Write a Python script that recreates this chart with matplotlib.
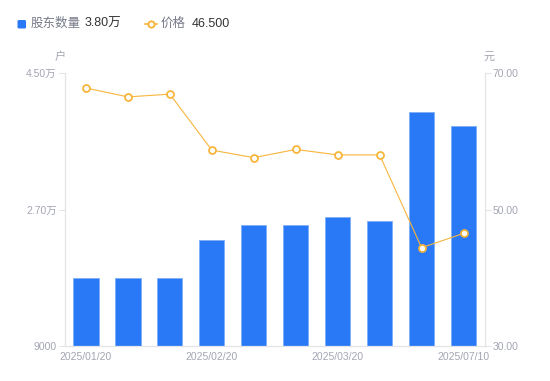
import matplotlib
matplotlib.use("Agg")
import matplotlib.pyplot as plt
from matplotlib.patches import FancyBboxPatch
from matplotlib.lines import Line2D

plt.rcParams['font.family'] = ['Liberation Sans', 'Noto Sans CJK SC', 'DejaVu Sans']

dates = ["2025/01/20", "2025/01/31", "2025/02/10", "2025/02/20", "2025/02/28",
         "2025/03/10", "2025/03/20", "2025/03/31", "2025/06/30", "2025/07/10"]
holders = [18000, 18000, 18000, 23000, 25000, 25000, 26000, 25500, 39900, 38000]
price = [67.8, 66.5, 66.9, 58.7, 57.6, 58.8, 58.0, 58.0, 44.4, 46.5]
xtick_idx = [0, 3, 6, 9]
left_ticks = [9000, 27000, 45000]
left_labels = ["9000", "2.70万", "4.50万"]
right_ticks = [30, 50, 70]
right_labels = ["30.00", "50.00", "70.00"]

BLUE = "#2979F6"
ORANGE = "#F7B53C"
GRAY = "#A3A5B3"
AXC = "#E3E4E8"

fig = plt.figure(figsize=(5.5, 3.81), dpi=100)
ax = fig.add_axes([65/550, 35/381, (484.5-65)/550, (346-73)/381])
x = list(range(len(dates)))
ax.bar(x, holders, width=0.6, color=BLUE, edgecolor="#7FAEF8", linewidth=0.6, zorder=2)
ax.set_xlim(-0.5, len(dates) - 0.5)
ax.set_ylim(9000, 45000)
ax.set_yticks(left_ticks)
ax.set_yticklabels(left_labels)
ax.set_xticks([x[i] for i in xtick_idx])
ax.set_xticklabels([dates[i] for i in xtick_idx])
ax.tick_params(axis='x', length=0, colors=GRAY, labelsize=7.5, pad=4)
ax.tick_params(axis='y', length=4, width=0.8, color=AXC, labelcolor=GRAY, labelsize=7.5, pad=2)
for s in ['top', 'right']:
    ax.spines[s].set_visible(False)
for s in ['left', 'bottom']:
    ax.spines[s].set_color(AXC)
    ax.spines[s].set_linewidth(0.9)

ax2 = ax.twinx()
ax2.plot(x, price, color=ORANGE, linewidth=0.8, marker='o', markersize=5,
         markerfacecolor='white', markeredgecolor=ORANGE, markeredgewidth=1.3, zorder=3)
ax2.set_ylim(30, 70)
ax2.set_yticks(right_ticks)
ax2.set_yticklabels(right_labels)
ax2.tick_params(axis='y', length=4, width=0.8, color=AXC, labelcolor=GRAY, labelsize=7.5, pad=2)
for s in ['top', 'left', 'bottom']:
    ax2.spines[s].set_visible(False)
ax2.spines['right'].set_color(AXC)
ax2.spines['right'].set_linewidth(0.9)

fig.text(60/550, 1 - 57/381, "户", color=GRAY, fontsize=8, ha='center', va='center')
fig.text(489/550, 1 - 57/381, "元", color=GRAY, fontsize=8, ha='center', va='center')

# legend
fig.patches.append(FancyBboxPatch((17.5/550, 1 - 28.5/381), 8.5/550, 8.5/381,
                                  boxstyle="round,pad=0,rounding_size=0.003",
                                  transform=fig.transFigure, facecolor=BLUE, edgecolor='none'))
fig.text(31/550, 1 - 24/381, "股东数量", color="#777A88", fontsize=9, ha='left', va='center')
fig.text(85/550, 1 - 24/381, "3.80万", color="#333333", fontsize=9, ha='left', va='center')
fig.lines.append(Line2D([145/550, 151/550, 157/550], [1 - 24/381] * 3, transform=fig.transFigure,
                        color=ORANGE, linewidth=1.2, marker='o', markersize=4.5, markevery=[1],
                        markerfacecolor='white', markeredgecolor=ORANGE, markeredgewidth=1.4))
fig.text(161/550, 1 - 24/381, "价格", color="#777A88", fontsize=9, ha='left', va='center')
fig.text(192/550, 1 - 24/381, "46.500", color="#333333", fontsize=9, ha='left', va='center')

fig.savefig("out.png", dpi=100)
